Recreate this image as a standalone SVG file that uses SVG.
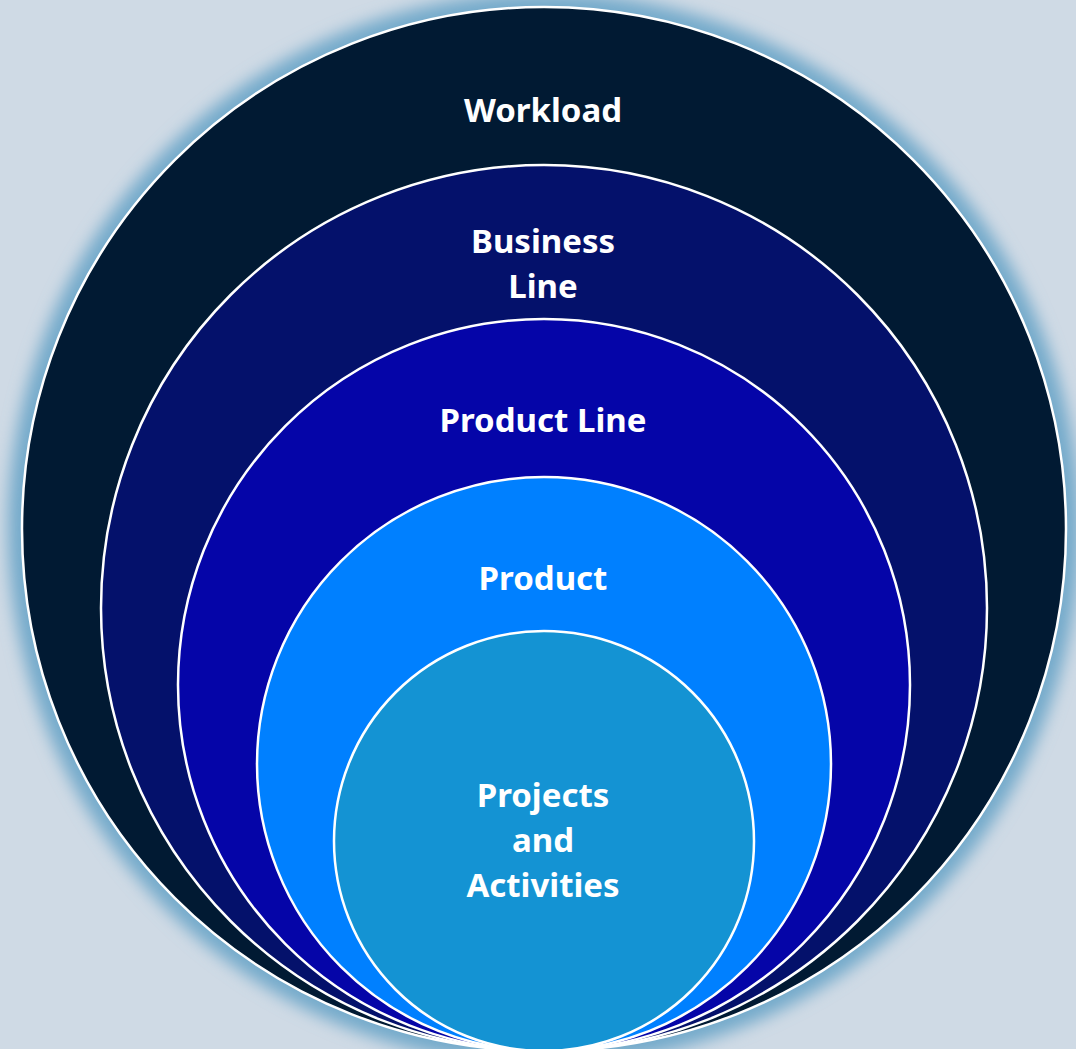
<svg xmlns="http://www.w3.org/2000/svg" width="1076" height="1049" viewBox="0 0 1076 1049">
  <defs>
    <filter id="glow" x="-10%" y="-10%" width="120%" height="120%">
      <feGaussianBlur stdDeviation="8"/>
    </filter>
    <style>
      .ring { stroke: #ffffff; stroke-width: 2.5; }
      .lbl { font-family: "Noto Sans", "Open Sans", sans-serif; font-weight: bold; font-size: 33px; fill: #ffffff; text-anchor: middle; }
    </style>
  </defs>
  <rect x="0" y="0" width="1076" height="1049" fill="#cfdae5"/>
  <circle cx="544" cy="529" r="536" fill="#74aacb" filter="url(#glow)"/>
  <g id="workload">
    <circle class="ring" cx="544" cy="529" r="522" fill="#011a33"/>
    <text class="lbl" x="543" y="122">Workload</text>
  </g>
  <g id="business-line">
    <circle class="ring" cx="544" cy="608" r="443" fill="#04116b"/>
    <text class="lbl" x="543" y="253">Business</text>
    <text class="lbl" x="543" y="298">Line</text>
  </g>
  <g id="product-line">
    <circle class="ring" cx="544" cy="685" r="366" fill="#0505a8"/>
    <text class="lbl" x="543" y="432">Product Line</text>
  </g>
  <g id="product">
    <circle class="ring" cx="544" cy="764" r="287" fill="#0080ff"/>
    <text class="lbl" x="543" y="590">Product</text>
  </g>
  <g id="projects">
    <circle class="ring" cx="544" cy="841" r="210" fill="#1493d3"/>
    <text class="lbl" x="543" y="807">Projects</text>
    <text class="lbl" x="543" y="852">and</text>
    <text class="lbl" x="543" y="897">Activities</text>
  </g>
  <g id="connectors"/>
</svg>
